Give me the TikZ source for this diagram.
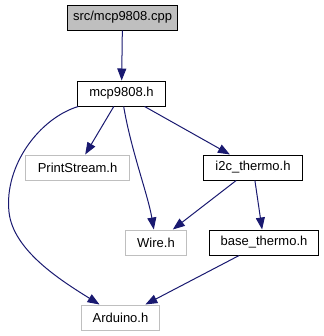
\documentclass[tikz,border=0pt]{standalone}
\usepackage{fontspec}
\setmainfont{Liberation Sans}
\usetikzlibrary{arrows.meta}
\definecolor{edgeblue}{HTML}{191970}
\definecolor{extgray}{HTML}{BFBFBF}

\begin{document}
\begin{tikzpicture}[x=1bp,y=-1bp,line width=1bp,
  file/.style={draw=black,minimum height=25bp,inner sep=0pt,
    font=\fontsize{13bp}{15bp}\selectfont},
  ext/.style={file,draw=extgray},
  edge/.style={draw=edgeblue,-{Triangle[length=12bp,width=9bp]}}]
\useasboundingbox (0,0) rectangle (324,336);
% files
\node[file,fill=extgray,minimum width=109bp] (cpp) at (122.5,17.5) {src/mcp9808.cpp};
\node[file,minimum width=87bp] (mcph) at (121.5,93.5) {mcp9808.h};
\node[ext,minimum width=103bp] (print) at (77.5,167.5) {PrintStream.h};
\node[file,minimum width=98bp] (i2c) at (253,167.5) {i2c\_thermo.h};
\node[ext,minimum width=60bp] (wire) at (156,242.5) {Wire.h};
\node[file,minimum width=108bp] (base) at (264,242.5) {base\_thermo.h};
\node[ext,minimum width=77bp] (ard) at (120.5,317.5) {Arduino.h};
% includes
\draw[edge] (cpp) -- (mcph);
\draw[edge] (mcph) -- (print);
\draw[edge] (mcph) -- (i2c);
\draw[edge] (mcph) .. controls (131,150) and (148,195) .. (wire);
\draw[edge] (mcph) .. controls (40,118) and (4,165) .. (9,212)
  .. controls (13,250) and (60,280) .. (ard);
\draw[edge] (i2c) -- (wire);
\draw[edge] (i2c) -- (base);
\draw[edge] (base) -- (ard);
\end{tikzpicture}
\end{document}
